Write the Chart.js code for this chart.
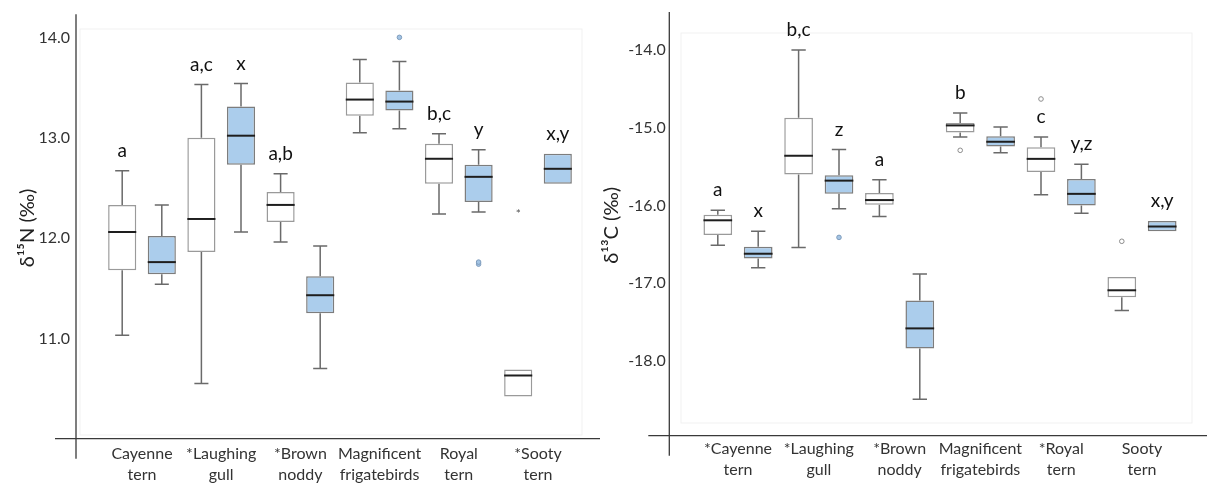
<!DOCTYPE html>
<html>
<head>
<meta charset="utf-8">
<script src="https://cdn.jsdelivr.net/npm/chart.js@4.4.1/dist/chart.umd.min.js"></script>
<style>
  html, body { margin: 0; padding: 0; background: #fff; }
  #wrap { position: relative; width: 1207px; height: 483px; }
  canvas { position: absolute; top: 0; }
</style>
</head>
<body>
<div id="wrap">
  <canvas id="chartN" width="600" height="483" style="left:0"></canvas>
  <canvas id="chartC" width="607" height="483" style="left:600px"></canvas>
</div>
<script>
// categories
var categoriesN = [['Cayenne', 'tern'], ['*Laughing', 'gull'], ['*Brown', 'noddy'], ['Magnificent', 'frigatebirds'], ['Royal', 'tern'], ['*Sooty', 'tern']];
var categoriesC = [['*Cayenne', 'tern'], ['*Laughing', 'gull'], ['*Brown', 'noddy'], ['Magnificent', 'frigatebirds'], ['*Royal', 'tern'], ['Sooty', 'tern']];

// d15N  -  each row: [min, q1, median, q3, max]
var n15White = [
  [11.03, 11.68, 12.06, 12.33, 12.67],
  [10.55, 11.86, 12.19, 13.00, 13.53],
  [11.96, 12.16, 12.33, 12.46, 12.64],
  [13.05, 13.22, 13.38, 13.55, 13.78],
  [12.24, 12.54, 12.79, 12.94, 13.04],
  [10.42, 10.42, 10.63, 10.69, 10.69]
];
var n15Blue = [
  [11.54, 11.64, 11.76, 12.02, 12.33],
  [12.06, 12.73, 13.02, 13.31, 13.54],
  [10.70, 11.25, 11.43, 11.62, 11.92],
  [13.09, 13.27, 13.36, 13.47, 13.76],
  [12.26, 12.36, 12.61, 12.73, 12.88],
  [12.54, 12.54, 12.69, 12.84, 12.84]
];
var n15WhiteOut = [[], [], [], [], [], []];
var n15WhiteExtreme = [[], [], [], [], [], [12.27]];
var n15BlueOut = [[], [], [], [14.00], [11.74, 11.76], []];
var n15BlueExtreme = [[], [], [], [], [], []];
var n15WhiteLetters = ['a', 'a,c', 'a,b', '', 'b,c', ''];
var n15BlueLetters = ['', 'x', '', '', 'y', 'x,y'];
var n15Ticks = [11, 12, 13, 14];

// d13C
var c13White = [
  [-16.51, -16.38, -16.19, -16.12, -16.06],
  [-16.54, -15.60, -15.36, -14.87, -14.00],
  [-16.14, -15.99, -15.93, -15.84, -15.67],
  [-15.12, -15.06, -14.97, -14.94, -14.81],
  [-15.86, -15.57, -15.40, -15.25, -15.12],
  [-17.35, -17.18, -17.09, -16.92, -16.92]
];
var c13Blue = [
  [-16.80, -16.68, -16.62, -16.53, -16.33],
  [-16.04, -15.85, -15.68, -15.61, -15.28],
  [-18.49, -17.84, -17.58, -17.22, -16.88],
  [-15.32, -15.24, -15.18, -15.11, -14.99],
  [-16.10, -16.00, -15.85, -15.66, -15.47],
  [-16.33, -16.33, -16.27, -16.20, -16.20]
];
var c13WhiteOut = [[], [], [], [-15.29], [-14.63], [-16.46]];
var c13WhiteExtreme = [[], [], [], [], [], []];
var c13BlueOut = [[], [-16.41], [], [], [], []];
var c13BlueExtreme = [[], [], [], [], [], []];
var c13WhiteLetters = ['a', 'b,c', 'a', 'b', 'c', ''];
var c13BlueLetters = ['x', 'z', '', '', 'y,z', 'x,y'];
var c13Ticks = [-18, -17, -16, -15, -14];

var FONT = 'Lato, "Open Sans", sans-serif';
var blueFill = '#abcdec';

var boxPlugin = {
  id: 'boxes',
  beforeDatasetsDraw: function(chart, args, opts) {
    var ctx = chart.ctx, y = chart.scales.y;
    ctx.save();
    // faint plot frame
    ctx.strokeStyle = '#f1f1f1';
    ctx.lineWidth = 1;
    ctx.strokeRect(opts.frame[0], opts.frame[1], opts.frame[2] - opts.frame[0], opts.frame[3] - opts.frame[1]);
    // whiskers
    ctx.strokeStyle = '#6a6a6a';
    ctx.lineWidth = 1.5;
    opts.series.forEach(function(s, d) {
      var meta = chart.getDatasetMeta(d);
      meta.data.forEach(function(bar, i) {
        var st = s.stats[i], x = bar.x, cw = bar.width * 0.5;
        ctx.beginPath();
        if (st[4] > st[3]) {
          ctx.moveTo(x, y.getPixelForValue(st[3]));
          ctx.lineTo(x, y.getPixelForValue(st[4]));
          ctx.moveTo(x - cw / 2, y.getPixelForValue(st[4]));
          ctx.lineTo(x + cw / 2, y.getPixelForValue(st[4]));
        }
        if (st[0] < st[1]) {
          ctx.moveTo(x, y.getPixelForValue(st[1]));
          ctx.lineTo(x, y.getPixelForValue(st[0]));
          ctx.moveTo(x - cw / 2, y.getPixelForValue(st[0]));
          ctx.lineTo(x + cw / 2, y.getPixelForValue(st[0]));
        }
        ctx.stroke();
      });
    });
    ctx.restore();
  },
  afterDatasetsDraw: function(chart, args, opts) {
    var ctx = chart.ctx, y = chart.scales.y;
    ctx.save();
    opts.series.forEach(function(s, d) {
      var meta = chart.getDatasetMeta(d);
      meta.data.forEach(function(bar, i) {
        var st = s.stats[i], x = bar.x, w = bar.width;
        // median
        ctx.strokeStyle = '#1e1e1e';
        ctx.lineWidth = 2;
        ctx.beginPath();
        ctx.moveTo(x - w / 2, y.getPixelForValue(st[2]));
        ctx.lineTo(x + w / 2, y.getPixelForValue(st[2]));
        ctx.stroke();
        // outliers
        s.out[i].forEach(function(v) {
          ctx.beginPath();
          ctx.arc(x, y.getPixelForValue(v), 2.3, 0, Math.PI * 2);
          ctx.fillStyle = s.outFill;
          ctx.fill();
          ctx.strokeStyle = s.outStroke;
          ctx.lineWidth = 1;
          ctx.stroke();
        });
        s.extreme[i].forEach(function(v) {
          ctx.fillStyle = '#555';
          ctx.font = '12px ' + FONT;
          ctx.textAlign = 'center';
          ctx.textBaseline = 'middle';
          ctx.fillText('*', x, y.getPixelForValue(v) + 3);
        });
        // letters
        if (s.letters[i]) {
          ctx.fillStyle = '#111';
          ctx.font = '19px ' + FONT;
          ctx.textAlign = 'center';
          ctx.textBaseline = 'middle';
          ctx.fillText(s.letters[i], x, y.getPixelForValue(st[4]) - 20);
        }
      });
    });
    ctx.restore();
  },
  afterDraw: function(chart, args, opts) {
    var ctx = chart.ctx, a = chart.chartArea;
    ctx.save();
    ctx.strokeStyle = '#3a3a3a';
    ctx.lineWidth = 1.3;
    ctx.beginPath();
    var vx = a.left - opts.axisGap;
    ctx.moveTo(vx, a.top - 3);
    ctx.lineTo(vx, a.bottom + 20);
    ctx.moveTo(vx - 21, a.bottom);
    ctx.lineTo(chart.width, a.bottom);
    ctx.stroke();
    ctx.restore();
  }
};

function makeChart(id, c) {
  var ctx = document.getElementById(id).getContext('2d');
  return new Chart(ctx, {
    type: 'bar',
    data: {
      labels: c.categories,
      datasets: [{
        data: c.white.map(function(s) { return [s[1], s[3]]; }),
        backgroundColor: '#ffffff',
        borderColor: '#9a9a9a',
        borderWidth: 1.5,
        borderSkipped: false,
        barPercentage: 0.71,
        categoryPercentage: 1.0
      }, {
        data: c.blue.map(function(s) { return [s[1], s[3]]; }),
        backgroundColor: blueFill,
        borderColor: '#7d7d7d',
        borderWidth: 1.5,
        borderSkipped: false,
        barPercentage: 0.71,
        categoryPercentage: 1.0
      }]
    },
    options: {
      responsive: false,
      animation: false,
      devicePixelRatio: 1,
      layout: { padding: { top: c.padTop, right: c.padRight, left: 0, bottom: 0 } },
      plugins: {
        legend: { display: false },
        tooltip: { enabled: false },
        boxes: {
          axisGap: c.axisGap,
          frame: c.frame,
          series: [
            { stats: c.white, out: c.whiteOut, extreme: c.whiteExtreme, letters: c.whiteLetters, outFill: '#ffffff', outStroke: '#8c8c8c' },
            { stats: c.blue, out: c.blueOut, extreme: c.blueExtreme, letters: c.blueLetters, outFill: '#a3c4e4', outStroke: '#7f9cbc' }
          ]
        }
      },
      scales: {
        x: {
          grid: { display: false, drawTicks: false },
          border: { display: false },
          afterFit: function(scale) {
            scale.height = c.xHeight;
            scale.paddingLeft = 0;
            scale.paddingRight = 0;
          },
          ticks: {
            color: '#333',
            font: { family: FONT, size: 16, lineHeight: 1.3 },
            padding: c.xPad,
            maxRotation: 0,
            autoSkip: false
          }
        },
        y: {
          min: c.yMin,
          max: c.yMax,
          grid: { display: false, drawTicks: false },
          border: { display: false },
          afterFit: function(scale) {
            scale.width = c.yWidth;
            scale.paddingTop = 0;
            scale.paddingBottom = 0;
          },
          afterBuildTicks: function(scale) {
            scale.ticks = c.ticks.map(function(v) { return { value: v }; });
          },
          ticks: {
            color: '#333',
            font: { family: FONT, size: 16 },
            padding: c.yPad,
            callback: function(v) { return Number(v).toFixed(1); }
          },
          title: {
            display: true,
            text: c.title,
            color: '#222',
            font: { family: FONT, size: 20 },
            padding: { top: c.titlePad, bottom: 0 }
          }
        }
      }
    },
    plugins: [boxPlugin]
  });
}

makeChart('chartN', {
  categories: categoriesN, white: n15White, blue: n15Blue,
  whiteOut: n15WhiteOut, whiteExtreme: n15WhiteExtreme, blueOut: n15BlueOut, blueExtreme: n15BlueExtreme,
  whiteLetters: n15WhiteLetters, blueLetters: n15BlueLetters, ticks: n15Ticks,
  yMin: 10, yMax: 14.2, title: 'δ¹⁵N (‰)',
  yWidth: 102.4, padRight: 22.4, padTop: 17.3, xHeight: 44.3,
  yPad: 32.4, xPad: 5, titlePad: 16, axisGap: 26.4,
  frame: [80, 29, 582, 435]
});

makeChart('chartC', {
  categories: categoriesC, white: c13White, blue: c13Blue,
  whiteOut: c13WhiteOut, whiteExtreme: c13WhiteExtreme, blueOut: c13BlueOut, blueExtreme: c13BlueExtreme,
  whiteLetters: c13WhiteLetters, blueLetters: c13BlueLetters, ticks: c13Ticks,
  yMin: -18.96, yMax: -13.55, title: 'δ¹³C (‰)',
  yWidth: 97.6, padRight: 24.6, padTop: 15, xHeight: 47.3,
  yPad: 31.9, xPad: 3, titlePad: 0, axisGap: 28.3,
  frame: [81, 33, 592, 423]
});
</script>
</body>
</html>
